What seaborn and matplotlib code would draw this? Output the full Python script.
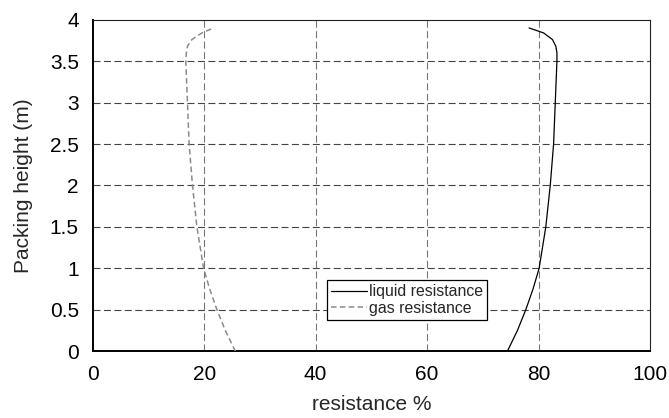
import matplotlib
matplotlib.use("Agg")
import matplotlib.pyplot as plt
import seaborn as sns
import pandas as pd

# Packing height (m) and the share of total mass-transfer resistance (%)
height = [0.0, 0.25, 0.5, 0.75, 1.0, 1.5, 2.0, 2.5, 3.0, 3.5, 3.6, 3.68, 3.76, 3.84, 3.9]
liquid_resistance = [74.4, 76.2, 77.7, 79.0, 80.1, 81.3, 82.1, 82.7, 83.0, 83.3, 83.3, 83.1, 82.5, 80.9, 78.3]
gas_resistance = [25.6, 23.8, 22.3, 21.0, 19.9, 18.7, 17.9, 17.3, 17.0, 16.7, 16.8, 17.0, 17.8, 19.6, 21.7]

x_ticks = [0, 20, 40, 60, 80, 100]
y_ticks = [0, 0.5, 1, 1.5, 2, 2.5, 3, 3.5, 4]
y_tick_labels = ["0", "0.5", "1", "1.5", "2", "2.5", "3", "3.5", "4"]

sns.set_style("white")
plt.rcParams["font.family"] = ["Liberation Sans", "DejaVu Sans"]

df = pd.DataFrame({"height": height,
                   "liquid": liquid_resistance,
                   "gas": gas_resistance})

fig = plt.figure(figsize=(6.69, 4.18), dpi=100)
ax = fig.add_axes([0.1386, 0.1595, 0.8330, 0.7935])

# grid first so the curves sit on top
for xv in x_ticks[1:-1]:
    ax.axvline(xv, color="#777777", lw=0.8, ls=(0, (6.3, 3.1)), zorder=1)
for yv in y_ticks[1:-1]:
    ax.axhline(yv, color="#444444", lw=0.8, ls=(0, (6.3, 3.1)), zorder=1)

sns.lineplot(data=df, x="liquid", y="height", sort=False, estimator=None,
             color="black", lw=0.9, ax=ax, label="liquid resistance", zorder=3)
sns.lineplot(data=df, x="gas", y="height", sort=False, estimator=None,
             color="#8a8a8a", lw=1.1, ax=ax, label="gas resistance", zorder=3)
ax.lines[-1].set_dashes((3.6, 2.2))

ax.set_xlim(0, 100)
ax.set_ylim(0, 4)
ax.set_xticks(x_ticks)
ax.set_yticks(y_ticks)
ax.set_yticklabels(y_tick_labels)
ax.tick_params(axis="both", direction="out", length=3, width=0.8,
               labelsize=15, colors="black")
ax.tick_params(axis="y", pad=7)
ax.tick_params(axis="x", pad=7)

for side in ("left", "bottom"):
    ax.spines[side].set_linewidth(1.4)
    ax.spines[side].set_color("black")
for side in ("top", "right"):
    ax.spines[side].set_linewidth(0.8)
    ax.spines[side].set_color("#222222")

ax.set_xlabel("resistance %", fontsize=15, va="center")
ax.set_ylabel("Packing height (m)", fontsize=15, va="center")
ax.xaxis.set_label_coords(0.501, -0.161)
ax.yaxis.set_label_coords(-0.125, 0.5)

leg = ax.legend(loc="center", bbox_to_anchor=(0.564, 0.155), fontsize=11.4,
                frameon=True, fancybox=False, shadow=False, framealpha=1,
                edgecolor="black", handlelength=2.3, handletextpad=0.15,
                borderpad=0.25, labelspacing=0.1, borderaxespad=0)
leg.get_frame().set_linewidth(0.9)

fig.savefig("out.png", dpi=100)
